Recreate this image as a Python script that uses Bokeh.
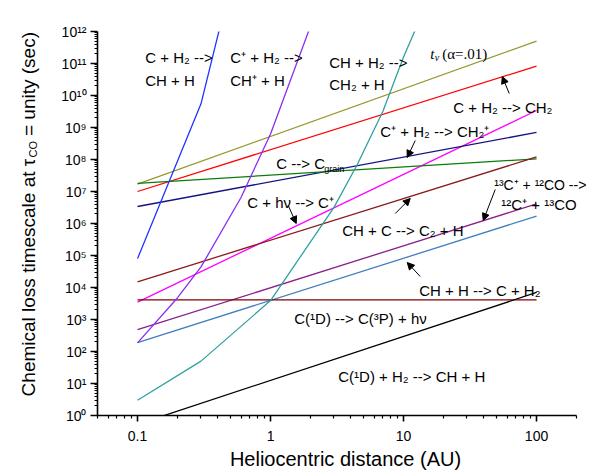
import numpy as np
from bokeh.plotting import figure
from bokeh.layouts import row
from bokeh.core.properties import value
from bokeh.models import Range1d, FixedTicker, CustomJSTickFormatter, Label, Arrow, NormalHead
from bokeh.embed import file_html
from bokeh.resources import INLINE

# ---------------- data ----------------
x_str = [0.1, 100]                       # straight power-law lines
tv_y = [1.7e7, 5.0e11]                   # t_v (alpha=.01)
c_h2_ch2_y = [1.0e7, 8.3e10]             # C + H2 --> CH2
cp_h2_ch2p_y = [3.5e3, 3.4e9]            # C+ + H2 --> CH2+
c_hv_y = [3.4e6, 7.0e8]                  # C + hv --> C+
c_grain_y = [1.8e7, 1.05e8]              # C --> C_grain
ch_c_y = [1.5e4, 1.2e8]                  # CH + C --> C2 + H
c13_y = [4.8e2, 4.1e6]                   # 13C+ + 12CO --> 12C+ + 13CO
ch_h_y = [1.9e2, 1.7e6]                  # CH + H --> C + H2
c1d_rad_y = [4.1e3, 4.1e3]               # C(1D) --> C(3P) + hv
c1d_h2_y = [0.53, 7.0e3]                 # C(1D) + H2 --> CH + H

c_h2_ch_x = [0.1, 0.3, 0.5]              # C + H2 --> CH + H
c_h2_ch_y = [8.0e4, 5.5e9, 3.0e13]
cp_h2_chp_x = [0.1, 0.2, 0.3, 0.6, 1, 2]  # C+ + H2 --> CH+ + H
cp_h2_chp_y = [1.86e2, 4.8e3, 4.4e4, 6.5e6, 6.3e8, 1.5e12]
ch_h2_ch2_x = [0.1, 0.3, 1, 3, 4.5, 7, 10, 15]  # CH + H2 --> CH2 + H
ch_h2_ch2_y = [3.0, 50, 3.9e3, 3.2e6, 7.1e7, 3.2e9, 1.6e11, 7.8e12]

x_major = [0.1, 1, 10, 100]
y_major = [10.0 ** k for k in range(0, 13)]

# ---------------- layout ----------------
WT, H = 593, 474
WL = 40                    # strip holding the y-axis title
W = WT - WL
X0, X1 = 0.05, 200         # drawn extent of the x axis
DEC = 133.0                # pixels per decade along x
x_view_end = 10 ** (np.log10(X0) + (WT - 97) / DEC)   # frame runs to the page edge so labels are not cut

p = figure(width=W, height=H, x_axis_type="log", y_axis_type="log",
           x_range=Range1d(X0, x_view_end), y_range=Range1d(1, 1e12),
           output_backend="svg", toolbar_location=None,
           min_border_left=97 - WL, min_border_right=0, min_border_top=31, min_border_bottom=59)
p.outline_line_color = None
p.xgrid.grid_line_color = None
p.ygrid.grid_line_color = None

x_minor = [m * 10.0 ** k for k in range(-2, 3) for m in range(2, 10) if X0 <= m * 10.0 ** k <= X1]
y_minor = [m * 10.0 ** k for k in range(0, 12) for m in range(2, 10)]
p.xaxis.ticker = FixedTicker(ticks=x_major, minor_ticks=x_minor)
p.yaxis.ticker = FixedTicker(ticks=y_major, minor_ticks=y_minor)
p.xaxis.bounds = (X0, X1)
p.xaxis.formatter = CustomJSTickFormatter(code="return tick >= 1 ? String(Math.round(tick)) : String(tick);")
p.yaxis.formatter = CustomJSTickFormatter(code="""
const e = Math.round(Math.log10(tick));
const sup = ['\u2070','\u00b9','\u00b2','\u00b3','\u2074','\u2075','\u2076','\u2077','\u2078','\u2079'];
return '10' + String(e).split('').map(d => sup[+d]).join('');
""")
for ax in (p.xaxis[0], p.yaxis[0]):
    ax.axis_line_width = 1.6
    ax.axis_line_color = "black"
    ax.major_tick_line_width = 1.6
    ax.minor_tick_line_width = 1.2
    ax.major_tick_in = 0
    ax.minor_tick_in = 0
    ax.major_label_text_font = "Liberation Sans"
    ax.major_label_text_color = "black"
p.xaxis.major_tick_out = 6
p.xaxis.minor_tick_out = 3
p.xaxis.major_label_standoff = 9
p.xaxis.major_label_text_font_size = "14px"
p.xaxis.axis_label = "Heliocentric distance (AU)"
p.xaxis.axis_label_text_font = "Liberation Sans"
p.xaxis.axis_label_text_font_style = "normal"
p.xaxis.axis_label_text_font_size = "20px"
p.xaxis.axis_label_text_color = "black"
p.xaxis.axis_label_standoff = 4
p.yaxis.major_tick_out = 7
p.yaxis.minor_tick_out = 3
p.yaxis.major_label_standoff = 4
p.yaxis.major_label_text_font_size = "14px"

lw = 1.3
p.line(x_str, tv_y, line_color="#97972e", line_width=lw)
p.line(x_str, c_h2_ch2_y, line_color="#ff0000", line_width=lw)
p.line(x_str, cp_h2_ch2p_y, line_color="#ff00ff", line_width=lw)
p.line(x_str, c_hv_y, line_color="#141480", line_width=lw)
p.line(x_str, c_grain_y, line_color="#0a7d0a", line_width=lw)
p.line(x_str, ch_c_y, line_color="#8b1a1a", line_width=lw)
p.line(x_str, c13_y, line_color="#8a1f8a", line_width=lw)
p.line(x_str, ch_h_y, line_color="#3f7fbf", line_width=lw)
p.line(x_str, c1d_rad_y, line_color="#800000", line_width=lw)
p.line(x_str, c1d_h2_y, line_color="black", line_width=lw)
p.line(c_h2_ch_x, c_h2_ch_y, line_color="#2233ff", line_width=lw)
p.line(cp_h2_chp_x, cp_h2_chp_y, line_color="#8a2ef0", line_width=lw)
p.line(ch_h2_ch2_x, ch_h2_ch2_y, line_color="#30a0a0", line_width=lw)

# ---------------- annotations (positions given in page pixels) ----------------
def dx(px):
    return 10 ** ((px - 137.3) / DEC - 1)

def dy(py):
    return 10 ** ((415.0 - py) / 32.0)

def lab(text, px, py, size=15, font="Liberation Sans", style="normal"):
    p.add_layout(Label(x=dx(px), y=dy(py), text=text, text_font=font,
                       text_font_size=f"{size}px", text_font_style=style,
                       text_align="left", text_baseline="alphabetic",
                       text_color="black"))

def arr(px0, py0, px1, py1):
    p.add_layout(Arrow(x_start=dx(px0), y_start=dy(py0), x_end=dx(px1), y_end=dy(py1),
                       line_width=1, line_color="black",
                       end=NormalHead(size=7, fill_color="black", line_color="black")))

lab("C + H\u2082 -->", 145, 57)
lab("CH + H", 145, 80)
lab("C\u207a + H\u2082 -->", 230, 57)
lab("CH\u207a + H", 230, 80)
lab("CH + H\u2082 -->", 329, 62)
lab("CH\u2082 + H", 329, 84)
lab("t", 430, 53, size=15, font="Liberation Serif", style="italic")
lab("v", 434.5, 57, size=10, font="Liberation Serif", style="italic")
lab("(\u03b1=.01)", 442, 53, size=15, font="Liberation Serif")
lab("C + H\u2082 --> CH\u2082", 453, 107)
lab("C\u207a + H\u2082 --> CH\u2082\u207a", 380, 131)
lab("C --> C", 276, 163)
lab("grain", 324, 168, size=9)
lab("C + h\u03bd --> C\u207a", 247, 202)
lab("CH + C --> C\u2082 + H", 342, 230)
lab("\u00b9\u00b3C\u207a + \u00b9\u00b2CO -->", 494, 184, size=14)
lab("\u00b9\u00b2C\u207a + \u00b9\u00b3CO", 501, 204)
lab("CH + H --> C + H\u2082", 419, 290)
lab("C(\u00b9D) --> C(\u00b3P) + h\u03bd", 294, 318)
lab("C(\u00b9D) + H\u2082 --> CH + H", 338, 376)

arr(509, 93, 502, 76)
arr(415, 140, 407, 157)
arr(288, 205, 296, 223)
arr(395, 213, 410, 198)
arr(495, 189, 483, 220)
arr(420, 276, 407, 262)

# ---------------- y-axis title strip ----------------
q = figure(width=WL, height=H, x_range=Range1d(0, WL), y_range=Range1d(0, H),
           output_backend="svg", toolbar_location=None,
           min_border_left=0, min_border_right=0, min_border_top=0, min_border_bottom=0)
q.axis.visible = False
q.xgrid.visible = False
q.ygrid.visible = False
q.outline_line_color = None
title_font = value("Liberation Sans")
q.text(x=[28], y=[H - 157], text=["Chemical loss timescale at \u03c4"], angle=np.pi / 2,
       text_font=title_font, text_font_size=value("19px"), text_align="right",
       text_baseline="alphabetic", text_color="black")
q.text(x=[32], y=[H - 155.5], text=["CO"], angle=np.pi / 2,
       text_font=title_font, text_font_size=value("11px"), text_align="left",
       text_baseline="alphabetic", text_color="black")
q.text(x=[28], y=[H - 129], text=["= unity (sec)"], angle=np.pi / 2,
       text_font=title_font, text_font_size=value("19px"), text_align="left",
       text_baseline="alphabetic", text_color="black")

layout = row(q, p, spacing=0)
open("out.html", "w").write(file_html(layout, INLINE))
